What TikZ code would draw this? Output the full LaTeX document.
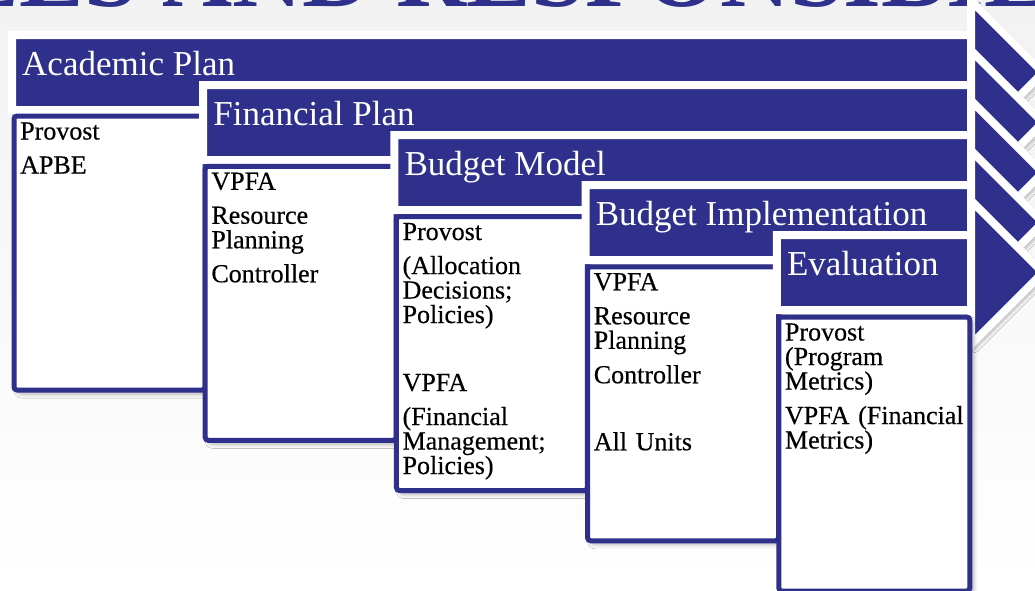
\documentclass[tikz,border=0pt]{standalone}
\usepackage{fontspec}
\setmainfont{Liberation Serif}
\newfontfamily\rolefont{Liberation Serif}[FakeBold=0.4]
\usetikzlibrary{shadows.blur}
\definecolor{planblue}{RGB}{46,48,140}
\definecolor{slidegrey}{RGB}{242,242,242}
\tikzset{
  softshadow/.style={blur shadow={shadow xshift=4pt,shadow yshift=-4pt,
      shadow blur radius=4pt,shadow opacity=30}},
  stagebar/.style={fill=planblue,draw=white,line width=8pt,softshadow},
  stagetitle/.style={anchor=base west,inner sep=0pt,text=white,
      font=\fontsize{35}{38}\selectfont},
  rolebox/.style={draw=planblue,fill=white,line width=5pt,rounded corners=3pt,
      anchor=north west,minimum width=191pt,minimum height=274pt,inner sep=0pt,
      softshadow},
  roletext/.style={anchor=base west,inner sep=0pt,align=left,text width=182pt,
      font=\rolefont\fontsize{26}{24.5}\selectfont},
}
% body and head of one stage arrow: #1 = left of the bar, #2 = top of the bar
\newcommand{\stagearrow}[2]{%
  \path[stagebar] (#1-4,#2-4) rectangle (971,#2+71)
    (971,#2-38.5) -- (1043,#2+33.5) -- (971,#2+105.5) -- cycle;}

\begin{document}
\begin{tikzpicture}[x=1pt,y=-1pt]
  \useasboundingbox (0,0) rectangle (1035,590);
  \clip (0,0) rectangle (1035,590);
  \shade[top color=slidegrey,bottom color=white] (0,0) rectangle (1035,590);
  % slide title, mostly outside the frame
  \node[anchor=base west,inner sep=0pt,text=planblue,
        font=\fontsize{97}{100}\selectfont\bfseries] (slidetitle)
       at (-191,6.5) {ROLES AND RESPONSIBILITIES};
  % academic plan
  \stagearrow{16}{39}
  \node[stagetitle] (acadtitle) at (22,75) {Academic Plan};
  \node[rolebox] (acadbox) at (11.5,113.5) {};
  \node[roletext] (acadroles) at (20,139.5) {Provost\\[9.5pt]APBE};
  % financial plan
  \stagearrow{207.2}{89}
  \node[stagetitle] (fintitle) at (213.2,125) {Financial Plan};
  \node[rolebox] (finbox) at (202.7,163.75) {};
  \node[roletext] (finroles) at (211.2,189.75)
       {VPFA\\[9.5pt]Resource\\Planning\\[9.5pt]Controller};
  % budget model
  \stagearrow{398.4}{139}
  \node[stagetitle] (modeltitle) at (404.4,175) {Budget Model};
  \node[rolebox] (modelbox) at (393.9,214) {};
  \node[roletext] (modelroles) at (402.4,240)
       {Provost\\[9.5pt](Allocation\\Decisions;\\Policies)\\[43.5pt]%
        VPFA\\[9.5pt](Financial\\Management;\\Policies)};
  % budget implementation
  \stagearrow{589.6}{189}
  \node[stagetitle] (impltitle) at (595.6,225) {Budget Implementation};
  \node[rolebox] (implbox) at (585.1,264.25) {};
  \node[roletext] (implroles) at (593.6,290.25)
       {VPFA\\[9.5pt]Resource\\Planning\\[10pt]Controller\\[42.5pt]All Units};
  % evaluation
  \stagearrow{780.8}{239}
  \node[stagetitle] (evaltitle) at (786.8,275) {Evaluation};
  \node[rolebox] (evalbox) at (776.3,314.5) {};
  \node[roletext] (evalroles) at (784.8,340.5)
       {Provost\\(Program\\Metrics)\\[10pt]VPFA (Financial\\Metrics)};
\end{tikzpicture}
\end{document}
